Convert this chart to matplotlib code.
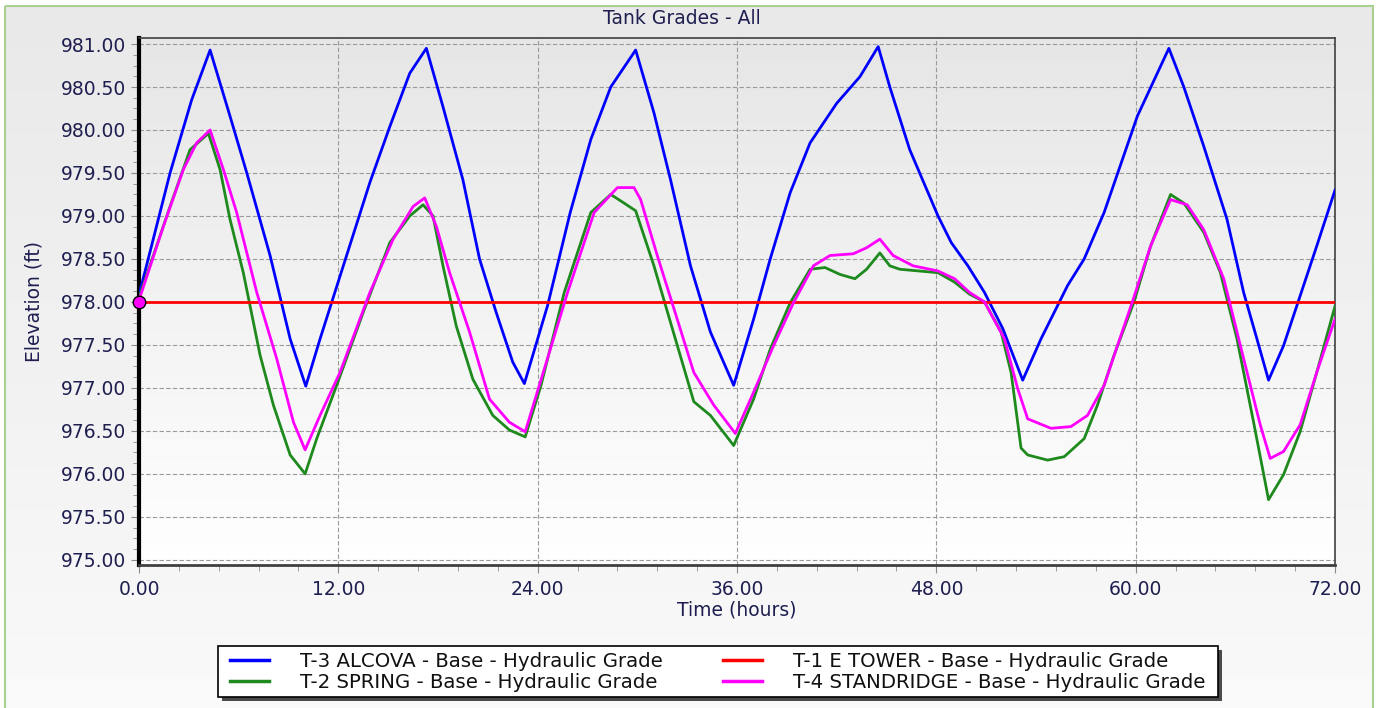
import numpy as np
import matplotlib
matplotlib.use("Agg")
import matplotlib.pyplot as plt
from matplotlib.patches import Rectangle
from matplotlib.ticker import MultipleLocator, FormatStrFormatter

# T-3 ALCOVA
t_alcova = [0, 0.66, 1.87, 3.17, 4.28, 5.48, 6.49, 7.89, 9.1, 10.04, 10.9, 12.3, 13.9, 15.1,
            16.3, 17.3, 18.3, 19.5, 20.5, 21.5, 22.5, 23.2, 24.6, 25.96, 27.2, 28.4, 29.9,
            31.0, 32.0, 33.2, 34.4, 35.8, 37.0, 38.0, 39.2, 40.4, 42.0, 43.4, 44.5, 45.2,
            46.4, 48.1, 48.9, 49.9, 50.9, 52.0, 53.2, 54.3, 55.9, 56.9, 58.1, 60.1, 62.0,
            62.9, 64.1, 65.5, 66.5, 67.3, 68.0, 68.9, 69.9, 70.9, 72.0]
v_alcova = [978.08, 978.58, 979.5, 980.35, 980.93, 980.16, 979.5, 978.54, 977.57, 977.02,
            977.57, 978.42, 979.39, 980.04, 980.66, 980.95, 980.27, 979.42, 978.5, 977.88,
            977.3, 977.05, 977.96, 979.04, 979.89, 980.5, 980.93, 980.2, 979.42, 978.42,
            977.65, 977.03, 977.8, 978.5, 979.27, 979.85, 980.31, 980.62, 980.97, 980.5,
            979.77, 979.0, 978.69, 978.42, 978.11, 977.69, 977.09, 977.57, 978.19, 978.5,
            979.04, 980.16, 980.95, 980.5, 979.81, 978.96, 978.11, 977.57, 977.09, 977.49,
            978.07, 978.65, 979.3]

# T-2 SPRING
t_spring = [0, 1.87, 3.07, 4.18, 4.88, 5.48, 6.28, 7.29, 8.09, 9.1, 10.0, 10.7, 11.9, 13.5,
            15.1, 16.3, 17.1, 17.7, 18.3, 19.1, 20.1, 21.3, 22.3, 23.25, 24.2, 25.6, 27.2,
            28.4, 29.2, 29.9, 31.0, 32.0, 33.4, 34.4, 35.8, 37.0, 38.0, 39.2, 40.4, 41.3,
            42.2, 43.1, 43.8, 44.6, 45.2, 45.8, 48.1, 49.1, 50.0, 50.9, 51.9, 52.5, 53.1,
            53.5, 54.7, 55.7, 56.9, 57.7, 58.7, 59.9, 60.9, 62.1, 62.9, 64.1, 65.1, 66.1,
            67.1, 68.0, 68.9, 69.9, 70.9, 72.0]
v_spring = [978.05, 979.11, 979.77, 979.96, 979.54, 978.96, 978.34, 977.38, 976.8, 976.22,
            976.0, 976.41, 977.03, 977.88, 978.69, 979.0, 979.13, 979.0, 978.42, 977.72,
            977.1, 976.68, 976.51, 976.43, 977.03, 978.11, 979.04, 979.25, 979.15, 979.06,
            978.42, 977.76, 976.84, 976.68, 976.33, 976.87, 977.45, 977.99, 978.38, 978.4,
            978.32, 978.27, 978.38, 978.57, 978.42, 978.38, 978.34, 978.23, 978.09, 978.0,
            977.65, 977.18, 976.3, 976.22, 976.16, 976.2, 976.41, 976.8, 977.38, 978.0,
            978.65, 979.25, 979.15, 978.81, 978.34, 977.57, 976.6, 975.7, 975.99, 976.49,
            977.18, 977.95]

# T-4 STANDRIDGE
t_standridge = [0, 1.47, 2.67, 3.47, 4.28, 5.08, 5.88, 7.09, 8.29, 9.3, 10.0, 10.9, 12.1,
                13.9, 15.3, 16.5, 17.2, 17.9, 18.7, 19.9, 21.1, 22.3, 23.25, 25.8, 27.4,
                28.8, 29.8, 30.2, 31.2, 32.4, 33.4, 34.6, 35.9, 37.0, 38.2, 39.4, 40.6,
                41.6, 43.0, 43.8, 44.6, 45.4, 46.6, 48.1, 49.1, 50.0, 50.9, 52.1, 52.9,
                53.5, 54.9, 56.1, 57.1, 58.1, 58.9, 59.8, 60.9, 62.1, 63.1, 64.1, 65.3,
                66.5, 67.5, 68.1, 68.9, 69.9, 70.9, 72.0]
v_standridge = [978.02, 978.88, 979.54, 979.85, 980.0, 979.54, 979.04, 978.11, 977.34,
                976.6, 976.28, 976.68, 977.18, 978.11, 978.73, 979.11, 979.21, 978.88,
                978.34, 977.65, 976.87, 976.6, 976.49, 978.11, 979.04, 979.33, 979.33,
                979.19, 978.54, 977.8, 977.18, 976.8, 976.47, 976.95, 977.49, 977.99,
                978.42, 978.54, 978.56, 978.63, 978.73, 978.54, 978.42, 978.36, 978.27,
                978.11, 978.0, 977.57, 976.99, 976.64, 976.53, 976.55, 976.68, 977.03,
                977.49, 978.0, 978.65, 979.19, 979.13, 978.84, 978.27, 977.34, 976.57,
                976.18, 976.26, 976.57, 977.18, 977.8]

# T-1 E TOWER (constant)
t_tower = [0, 72]
v_tower = [978.0, 978.0]

labels = ["T-3 ALCOVA - Base - Hydraulic Grade", "T-2 SPRING - Base - Hydraulic Grade",
          "T-1 E TOWER - Base - Hydraulic Grade", "T-4 STANDRIDGE - Base - Hydraulic Grade"]

plt.rcParams["font.family"] = ["DejaVu Sans"]
txt = "#1e1e50"
fs = 13.5

fig = plt.figure(figsize=(13.78, 7.08), dpi=100, facecolor="white")

# outer panel with soft gradient and green border, plus the legend box (pixel coords)
bg = fig.add_axes([0, 0, 1, 1], zorder=-10)
bg.set_xlim(0, 1378)
bg.set_ylim(708, 0)
bg.axis("off")
grad = np.linspace(0, 1, 256).reshape(-1, 1)
bg.imshow(grad, cmap=matplotlib.colors.LinearSegmentedColormap.from_list("g", ["#e9e9e9", "#fafafa"]),
          extent=[5, 1373, 720, 6], aspect="auto")
bg.add_patch(Rectangle((5, 6), 1368, 720, fill=False, edgecolor="#a9d18e", lw=1.5))
bg.add_patch(Rectangle((222, 650), 1000, 51, facecolor="#4a4a4a", edgecolor="none"))
bg.add_patch(Rectangle((218, 646), 1000, 51, facecolor="white", edgecolor="black", lw=1.2))

ax = fig.add_axes([139 / 1378, 143 / 708, 1196 / 1378, 527 / 708])
ax.imshow(grad, cmap=matplotlib.colors.LinearSegmentedColormap.from_list("p", ["#e6e6e6", "#ffffff"]),
          extent=[0, 72, 974.94, 981.07], aspect="auto", zorder=0)

ax.plot(t_alcova, v_alcova, color="#0000ff", lw=2.0, label=labels[0], zorder=3)
ax.plot(t_spring, v_spring, color="#1e8a1e", lw=2.0, label=labels[1], zorder=3)
ax.plot(t_tower, v_tower, color="#ff0000", lw=2.0, label=labels[2], zorder=3)
ax.plot(t_standridge, v_standridge, color="#ff00ff", lw=2.0, label=labels[3], zorder=3)
ax.plot([0], [978.0], "o", ms=9, mfc="#ff00ff", mec="black", mew=1, zorder=5, clip_on=False)

ax.set_xlim(0, 72)
ax.set_ylim(974.94, 981.07)
ax.xaxis.set_major_locator(MultipleLocator(12))
ax.xaxis.set_minor_locator(MultipleLocator(2.4))
ax.yaxis.set_major_locator(MultipleLocator(0.5))
ax.yaxis.set_minor_locator(MultipleLocator(0.125))
ax.xaxis.set_major_formatter(FormatStrFormatter("%.2f"))
ax.yaxis.set_major_formatter(FormatStrFormatter("%.2f"))
ax.grid(True, which="major", color="#9a9a9a", ls=(0, (4, 2)), lw=0.8)
ax.tick_params(which="both", colors="#8c8c8c", labelcolor=txt, labelsize=fs)
ax.tick_params(which="major", length=6)
ax.tick_params(which="minor", length=4)
ax.tick_params(axis="x", pad=5)

ax.spines["left"].set_color("black")
ax.spines["left"].set_linewidth(3)
ax.spines["bottom"].set_color("#404040")
ax.spines["bottom"].set_linewidth(2)
ax.spines["top"].set_color("#404040")
ax.spines["right"].set_color("#404040")
ax.spines["top"].set_linewidth(1.2)
ax.spines["right"].set_linewidth(1.2)

fig.text(682 / 1378, 1 - 18 / 708, "Tank Grades - All", color=txt, fontsize=fs,
         ha="center", va="center")
ax.set_xlabel("Time (hours)", color=txt, fontsize=fs, labelpad=1)
ax.set_ylabel("Elevation (ft)", color=txt, fontsize=fs, labelpad=12)

leg = fig.legend(loc="center", bbox_to_anchor=(718 / 1378, 36 / 708), ncol=2,
                 prop={"size": 14.2}, frameon=False, borderpad=0.0,
                 handlelength=1.95, handletextpad=1.6, columnspacing=3.05, labelspacing=0.08)
for line in leg.get_lines():
    line.set_linewidth(2.5)
for text in leg.get_texts():
    text.set_color("#111111")

fig.savefig("out.png", dpi=100, facecolor=fig.get_facecolor())
